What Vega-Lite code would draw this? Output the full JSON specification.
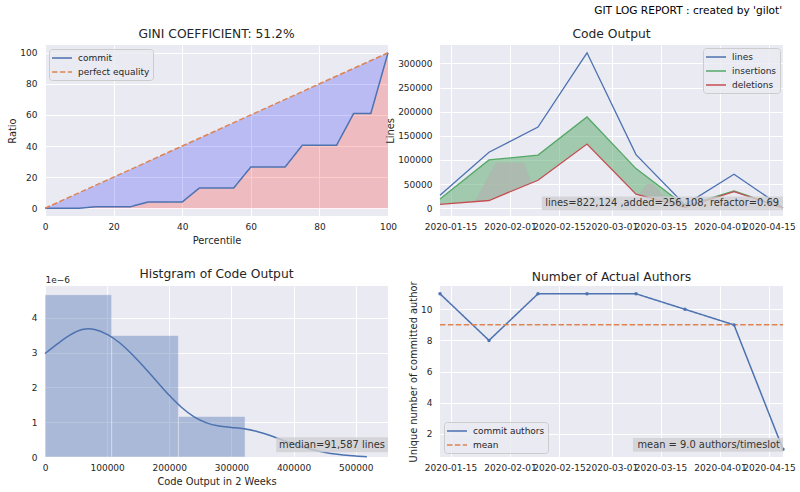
{
  "$schema": "https://vega.github.io/schema/vega-lite/v6.json",
  "background": "white",
  "padding": {"left": 7, "right": 5, "top": 6, "bottom": 3},
  "title": {"text": "GIT LOG REPORT : created by 'gilot'", "anchor": "end", "fontSize": 10.6, "fontWeight": "normal", "color": "#000000", "offset": 11, "dx": -13, "font": "DejaVu Sans"},
  "config": {
    "font": "DejaVu Sans",
    "view": {"fill": "#EAEAF2", "stroke": null},
    "axis": {"domain": false, "ticks": false, "gridColor": "#ffffff", "gridWidth": 1, "labelFontSize": 9, "labelColor": "#262626", "titleFontSize": 9.85, "titleFontWeight": "normal", "titleColor": "#262626", "labelFlush": false, "labelOverlap": false, "labelBound": false, "tickCount": 20},
    "axisX": {"labelPadding": 6, "titlePadding": 4},
    "axisY": {"labelPadding": 8, "titlePadding": 2, "labelOverlap": false},
    "title": {"fontSize": 12.3, "fontWeight": "normal", "color": "#262626", "offset": 5},
    "legend": {"fillColor": "rgba(234,234,242,0.8)", "strokeColor": "#cccccc", "cornerRadius": 3, "padding": 3, "labelFontSize": 9, "labelColor": "#262626", "symbolType": "M-2,0L2,0", "symbolSize": 100, "symbolOffset": 4, "labelOffset": 10, "symbolStrokeWidth": 1.5, "rowPadding": 3, "offset": 4}
  },
  "datasets": {
    "lorenz": [
      {"p": 0, "commit": 0, "equality": 0},
      {"p": 10, "commit": 0, "equality": 10},
      {"p": 15, "commit": 1, "equality": 15},
      {"p": 25, "commit": 1, "equality": 25},
      {"p": 30, "commit": 4, "equality": 30},
      {"p": 40, "commit": 4, "equality": 40},
      {"p": 45, "commit": 13, "equality": 45},
      {"p": 55, "commit": 13, "equality": 55},
      {"p": 60, "commit": 26.5, "equality": 60},
      {"p": 70, "commit": 26.5, "equality": 70},
      {"p": 75, "commit": 40.5, "equality": 75},
      {"p": 85, "commit": 40.5, "equality": 85},
      {"p": 90, "commit": 61, "equality": 90},
      {"p": 95, "commit": 61, "equality": 95},
      {"p": 100, "commit": 100, "equality": 100}
    ],
    "lorenzLines": [
      {"series": "commit", "p": 0, "v": 0},
      {"series": "commit", "p": 10, "v": 0},
      {"series": "commit", "p": 15, "v": 1},
      {"series": "commit", "p": 25, "v": 1},
      {"series": "commit", "p": 30, "v": 4},
      {"series": "commit", "p": 40, "v": 4},
      {"series": "commit", "p": 45, "v": 13},
      {"series": "commit", "p": 55, "v": 13},
      {"series": "commit", "p": 60, "v": 26.5},
      {"series": "commit", "p": 70, "v": 26.5},
      {"series": "commit", "p": 75, "v": 40.5},
      {"series": "commit", "p": 85, "v": 40.5},
      {"series": "commit", "p": 90, "v": 61},
      {"series": "commit", "p": 95, "v": 61},
      {"series": "commit", "p": 100, "v": 100},
      {"series": "perfect equality", "p": 0, "v": 0},
      {"series": "perfect equality", "p": 100, "v": 100}
    ],
    "code": [
      {"date": "2020-01-12", "lines": 27000, "insertions": 19000, "deletions": 8000},
      {"date": "2020-01-26", "lines": 116000, "insertions": 100000, "deletions": 16000},
      {"date": "2020-02-09", "lines": 168000, "insertions": 110000, "deletions": 58000},
      {"date": "2020-02-23", "lines": 322000, "insertions": 189000, "deletions": 133000},
      {"date": "2020-03-08", "lines": 111000, "insertions": 82000, "deletions": 29000},
      {"date": "2020-03-22", "lines": 7000, "insertions": 5000, "deletions": 2000},
      {"date": "2020-04-05", "lines": 70500, "insertions": 36000, "deletions": 34500},
      {"date": "2020-04-19", "lines": 1000, "insertions": 700, "deletions": 300}
    ],
    "stipple": [
      {"region": "A", "date": "2020-01-22", "lo": 14000, "hi": 15000},
      {"region": "A", "date": "2020-01-28", "lo": 22000, "hi": 94000},
      {"region": "A", "date": "2020-02-05", "lo": 46000, "hi": 94000},
      {"region": "A", "date": "2020-02-07", "lo": 52000, "hi": 56000},
      {"region": "B", "date": "2020-03-09", "lo": 27000, "hi": 29000},
      {"region": "B", "date": "2020-03-11", "lo": 23000, "hi": 50000},
      {"region": "B", "date": "2020-03-13", "lo": 19500, "hi": 50000},
      {"region": "B", "date": "2020-03-17", "lo": 12000, "hi": 14000}
    ],
    "hist": [
      {"start": 0, "end": 107300, "density": 4.66},
      {"start": 107300, "end": 214700, "density": 3.49},
      {"start": 214700, "end": 322000, "density": 1.165}
    ],
    "kde": [
      {"x": 0, "density": 2.97},
      {"x": 20000, "density": 3.25},
      {"x": 40000, "density": 3.5},
      {"x": 60000, "density": 3.66},
      {"x": 70000, "density": 3.68},
      {"x": 80000, "density": 3.66},
      {"x": 100000, "density": 3.52},
      {"x": 120000, "density": 3.28},
      {"x": 140000, "density": 2.95},
      {"x": 160000, "density": 2.57},
      {"x": 180000, "density": 2.17},
      {"x": 200000, "density": 1.77},
      {"x": 220000, "density": 1.42},
      {"x": 240000, "density": 1.15},
      {"x": 260000, "density": 0.98},
      {"x": 280000, "density": 0.89},
      {"x": 300000, "density": 0.85},
      {"x": 320000, "density": 0.81},
      {"x": 340000, "density": 0.74},
      {"x": 360000, "density": 0.63},
      {"x": 380000, "density": 0.5},
      {"x": 400000, "density": 0.38},
      {"x": 420000, "density": 0.26},
      {"x": 440000, "density": 0.17},
      {"x": 460000, "density": 0.1},
      {"x": 480000, "density": 0.06},
      {"x": 500000, "density": 0.03},
      {"x": 518000, "density": 0.01}
    ],
    "authors": [
      {"series": "commit authors", "date": "2020-01-12", "value": 11},
      {"series": "commit authors", "date": "2020-01-26", "value": 8},
      {"series": "commit authors", "date": "2020-02-09", "value": 11},
      {"series": "commit authors", "date": "2020-02-23", "value": 11},
      {"series": "commit authors", "date": "2020-03-08", "value": 11},
      {"series": "commit authors", "date": "2020-03-22", "value": 10},
      {"series": "commit authors", "date": "2020-04-05", "value": 9},
      {"series": "commit authors", "date": "2020-04-19", "value": 1},
      {"series": "mean", "date": "2020-01-12", "value": 9},
      {"series": "mean", "date": "2020-04-19", "value": 9}
    ],
    "note2": [{"label": "lines=822,124 ,added=256,108, refactor=0.69", "x1": "2020-02-10T02:00:00Z", "x2": "2020-04-19", "y1": -4000, "y2": 24500, "ty": 10300}],
    "note3": [{"label": "median=91,587 lines", "x1": 372000, "x2": 552000, "y1": 0.135, "y2": 0.567, "ty": 0.351}],
    "note4": [{"label": "mean = 9.0 authors/timeslot", "x1": "2020-03-07T03:00:00Z", "x2": "2020-04-19", "y1": 0.83, "y2": 1.73, "ty": 1.28}]
  },
  "columns": 2,
  "spacing": {"row": 70, "column": 52},
  "bounds": "flush",
  "resolve": {"scale": {"color": "independent", "strokeDash": "independent"}, "legend": {"color": "independent", "strokeDash": "independent"}},
  "concat": [
    {
      "width": 343, "height": 171,
      "title": "GINI COEFFICIENT: 51.2%",
      "layer": [
        {"data": {"name": "lorenz"}, "mark": {"type": "area", "color": "red", "opacity": 0.2, "orient": "vertical"},
         "encoding": {
           "x": {"field": "p", "type": "quantitative", "scale": {"domain": [0, 100], "nice": false}, "axis": {"title": "Percentile", "format": "d", "values": [0, 20, 40, 60, 80, 100]}},
           "y": {"field": "commit", "type": "quantitative", "scale": {"domain": [-5, 105], "nice": false}, "axis": {"title": "Ratio", "format": "d", "values": [0, 20, 40, 60, 80, 100]}},
           "y2": {"datum": 0}}},
        {"data": {"name": "lorenz"}, "mark": {"type": "area", "color": "blue", "opacity": 0.2, "orient": "vertical"},
         "encoding": {
           "x": {"field": "p", "type": "quantitative"},
           "y": {"field": "commit", "type": "quantitative"},
           "y2": {"field": "equality"}}},
        {"data": {"name": "lorenzLines"}, "mark": {"type": "line", "strokeWidth": 1.5},
         "encoding": {
           "x": {"field": "p", "type": "quantitative"},
           "y": {"field": "v", "type": "quantitative"},
           "color": {"field": "series", "type": "nominal", "scale": {"domain": ["commit", "perfect equality"], "range": ["#4C72B0", "#DD8452"]}, "legend": {"title": null, "orient": "top-left", "symbolOffset": 4, "labelOffset": 10, "symbolSize": 100, "padding": 3}},
           "strokeDash": {"field": "series", "type": "nominal", "scale": {"domain": ["commit", "perfect equality"], "range": [[1, 0], [5.5, 2.4]]}, "legend": {"title": null, "orient": "top-left", "symbolOffset": 4, "labelOffset": 10, "symbolSize": 100, "padding": 3}}}}
      ]
    },
    {
      "width": 343, "height": 171,
      "title": "Code Output",
      "layer": [
        {"data": {"name": "code"}, "mark": {"type": "area", "color": "#55A868", "opacity": 0.5, "orient": "vertical"},
         "encoding": {
           "x": {"field": "date", "type": "temporal", "scale": {"type": "utc", "nice": false, "domain": [{"year": 2020, "month": 1, "date": 12, "utc": true}, {"year": 2020, "month": 4, "date": 19, "utc": true}]},
                 "axis": {"title": null, "format": "%Y-%m-%d", "values": [{"year": 2020, "month": 1, "date": 15, "utc": true}, {"year": 2020, "month": 2, "date": 1, "utc": true}, {"year": 2020, "month": 2, "date": 15, "utc": true}, {"year": 2020, "month": 3, "date": 1, "utc": true}, {"year": 2020, "month": 3, "date": 15, "utc": true}, {"year": 2020, "month": 4, "date": 1, "utc": true}, {"year": 2020, "month": 4, "date": 15, "utc": true}]}},
           "y": {"field": "insertions", "type": "quantitative", "scale": {"domain": [-16100, 338100], "nice": false}, "axis": {"title": "Lines", "format": "d", "values": [0, 50000, 100000, 150000, 200000, 250000, 300000]}},
           "y2": {"field": "deletions"}}},
        {"data": {"name": "stipple"}, "mark": {"type": "area", "color": "#b0b4b0", "opacity": 0.7, "orient": "vertical"},
         "encoding": {
           "x": {"field": "date", "type": "temporal"},
           "y": {"field": "lo", "type": "quantitative"},
           "y2": {"field": "hi"},
           "detail": {"field": "region", "type": "nominal"}}},
        {"data": {"name": "code"}, "transform": [{"fold": ["lines", "insertions", "deletions"], "as": ["key", "value"]}],
         "mark": {"type": "line", "strokeWidth": 1.3},
         "encoding": {
           "x": {"field": "date", "type": "temporal"},
           "y": {"field": "value", "type": "quantitative"},
           "color": {"field": "key", "type": "nominal", "scale": {"domain": ["lines", "insertions", "deletions"], "range": ["#4C72B0", "#55A868", "#C44E52"]}, "legend": {"title": null, "orient": "top-right", "offset": 3, "symbolOffset": 4, "labelOffset": 10, "symbolSize": 100, "padding": 3}}}},
        {"data": {"name": "note2"}, "mark": {"type": "rect", "color": "#cfcfd2", "opacity": 0.8},
         "encoding": {
           "x": {"field": "x1", "type": "temporal"}, "x2": {"field": "x2"},
           "y": {"field": "y1", "type": "quantitative"}, "y2": {"field": "y2"}}},
        {"data": {"name": "note2"}, "mark": {"type": "text", "align": "right", "baseline": "middle", "dx": -4, "fontSize": 9.9, "color": "#333333"},
         "encoding": {
           "x": {"field": "x2", "type": "temporal"},
           "y": {"field": "ty", "type": "quantitative"},
           "text": {"field": "label"}}}
      ]
    },
    {
      "width": 343, "height": 171,
      "title": {"text": "Histgram of Code Output", "offset": -5},
      "layer": [
        {"data": {"name": "hist"}, "mark": {"type": "rect", "color": "#4C72B0", "opacity": 0.4, "stroke": "#ffffff", "strokeWidth": 0.8, "strokeOpacity": 0.6},
         "encoding": {
           "x": {"field": "start", "type": "quantitative", "scale": {"domain": [0, 552000], "nice": false}, "axis": {"title": "Code Output in 2 Weeks", "format": "d", "values": [0, 100000, 200000, 300000, 400000, 500000]}},
           "x2": {"field": "end"},
           "y": {"field": "density", "type": "quantitative", "scale": {"domain": [0, 4.91], "nice": false}, "axis": {"title": "1e\u22126", "titleAngle": 0, "titleX": 0, "titleY": -4, "titleAlign": "left", "titleBaseline": "alphabetic", "titleFontSize": 9, "format": "d", "values": [0, 1, 2, 3, 4]}},
           "y2": {"datum": 0}}},
        {"data": {"name": "kde"}, "mark": {"type": "line", "color": "#4C72B0", "strokeWidth": 1.5, "interpolate": "monotone"},
         "encoding": {
           "x": {"field": "x", "type": "quantitative"},
           "y": {"field": "density", "type": "quantitative"}}},
        {"data": {"name": "note3"}, "mark": {"type": "rect", "color": "#cfcfd2", "opacity": 0.8},
         "encoding": {
           "x": {"field": "x1", "type": "quantitative"}, "x2": {"field": "x2"},
           "y": {"field": "y1", "type": "quantitative"}, "y2": {"field": "y2"}}},
        {"data": {"name": "note3"}, "mark": {"type": "text", "align": "right", "baseline": "middle", "dx": -3, "fontSize": 9.9, "color": "#333333"},
         "encoding": {
           "x": {"field": "x2", "type": "quantitative"},
           "y": {"field": "ty", "type": "quantitative"},
           "text": {"field": "label"}}}
      ]
    },
    {
      "width": 343, "height": 171,
      "title": {"text": "Number of Actual Authors", "offset": -2},
      "layer": [
        {"data": {"name": "authors"}, "mark": {"type": "line", "strokeWidth": 1.5},
         "encoding": {
           "x": {"field": "date", "type": "temporal", "scale": {"type": "utc", "nice": false, "domain": [{"year": 2020, "month": 1, "date": 12, "utc": true}, {"year": 2020, "month": 4, "date": 19, "utc": true}]},
                 "axis": {"title": null, "format": "%Y-%m-%d", "values": [{"year": 2020, "month": 1, "date": 15, "utc": true}, {"year": 2020, "month": 2, "date": 1, "utc": true}, {"year": 2020, "month": 2, "date": 15, "utc": true}, {"year": 2020, "month": 3, "date": 1, "utc": true}, {"year": 2020, "month": 3, "date": 15, "utc": true}, {"year": 2020, "month": 4, "date": 1, "utc": true}, {"year": 2020, "month": 4, "date": 15, "utc": true}]}},
           "y": {"field": "value", "type": "quantitative", "scale": {"domain": [0.5, 11.5], "nice": false}, "axis": {"title": "Unique number of committed author", "format": "d", "values": [2, 4, 6, 8, 10]}},
           "color": {"field": "series", "type": "nominal", "scale": {"domain": ["commit authors", "mean"], "range": ["#4C72B0", "#DD8452"]}, "legend": {"title": null, "orient": "bottom-left", "symbolOffset": 4, "labelOffset": 10, "symbolSize": 100, "padding": 3}},
           "strokeDash": {"field": "series", "type": "nominal", "scale": {"domain": ["commit authors", "mean"], "range": [[1, 0], [5.5, 2.4]]}, "legend": {"title": null, "orient": "bottom-left", "symbolOffset": 4, "labelOffset": 10, "symbolSize": 100, "padding": 3}}}},
        {"data": {"name": "authors"}, "transform": [{"filter": "datum.series == 'commit authors'"}],
         "mark": {"type": "point", "filled": true, "color": "#4C72B0", "size": 12, "opacity": 1},
         "encoding": {
           "x": {"field": "date", "type": "temporal"},
           "y": {"field": "value", "type": "quantitative"}}},
        {"data": {"name": "note4"}, "mark": {"type": "rect", "color": "#cfcfd2", "opacity": 0.8},
         "encoding": {
           "x": {"field": "x1", "type": "temporal"}, "x2": {"field": "x2"},
           "y": {"field": "y1", "type": "quantitative"}, "y2": {"field": "y2"}}},
        {"data": {"name": "note4"}, "mark": {"type": "text", "align": "right", "baseline": "middle", "dx": -3, "fontSize": 9.9, "color": "#333333"},
         "encoding": {
           "x": {"field": "x2", "type": "temporal"},
           "y": {"field": "ty", "type": "quantitative"},
           "text": {"field": "label"}}}
      ]
    }
  ]
}
